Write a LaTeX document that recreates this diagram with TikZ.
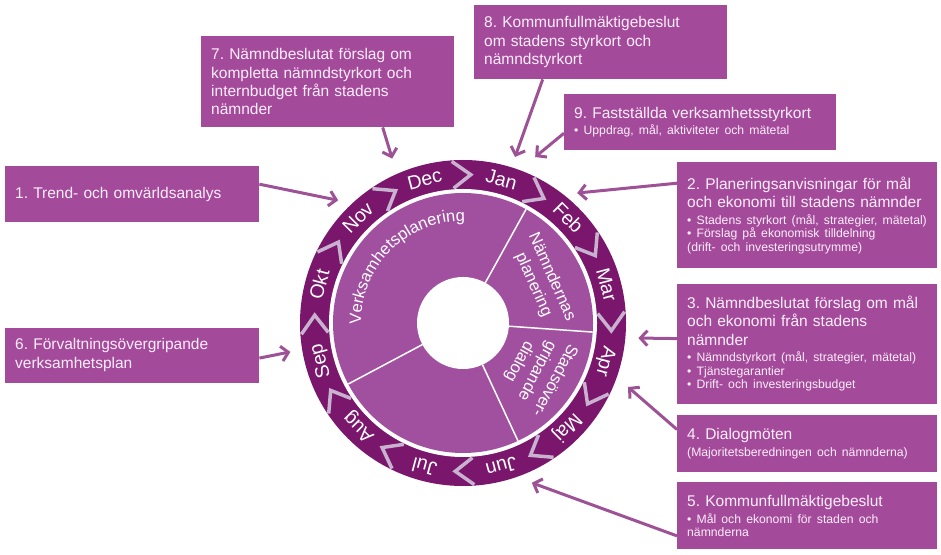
\documentclass[tikz,border=0pt]{standalone}
\usepackage{fontspec}
\setmainfont{Liberation Sans}
\usetikzlibrary{arrows.meta}
\usetikzlibrary{positioning}
\usetikzlibrary{decorations.text}

\definecolor{boxfill}{RGB}{164,74,154}
\definecolor{ringdark}{RGB}{122,22,108}
\definecolor{discfill}{RGB}{161,80,160}
\definecolor{chevron}{RGB}{200,178,208}
\definecolor{arrowc}{RGB}{158,82,150}
\definecolor{boxtext}{RGB}{253,238,251}

\frenchspacing
\hyphenpenalty=10000
\newcommand{\bigtxt}{\fontsize{15.5}{18.3}\selectfont}
\newcommand{\subtxt}[1]{\par\vspace{3.5pt}{\fontsize{12.2}{13.3}\selectfont #1\par}}

\tikzset{
  infobox/.style={fill=boxfill, text=boxtext, anchor=north west, align=left,
    inner xsep=10pt, inner ysep=0pt, font=\bigtxt},
  flow/.style={draw=arrowc, line width=3pt, -{Straight Barb[length=7pt,width=15pt]}},
  month/.style={text=white, inner sep=0pt, text height=13pt, text depth=0pt,
    font=\fontsize{19.5}{20}\selectfont},
  disctext/.style={text=white, align=center, inner sep=0pt,
    font=\fontsize{16.5}{20}\selectfont},
}

\begin{document}
\begin{tikzpicture}[x=1pt, y=1pt]
    \useasboundingbox (0,0) rectangle (941,554);

    \node[infobox, text width=233pt, minimum height=91pt] (b7) at (201,518)
      {7. Nämndbeslutat förslag om\\kompletta nämndstyrkort och\\internbudget från stadens\\nämnder};
    \node[infobox, text width=233pt, minimum height=74pt] (b8) at (474,549)
      {8. Kommunfullmäktigebeslut\\om stadens styrkort och\\nämndstyrkort};
    \node[infobox, text width=252pt, minimum height=56pt] (b9) at (564,460)
      {9. Fastställda verksamhetsstyrkort\subtxt{• Uppdrag, mål, aktiviteter och mätetal}};

    \node[infobox, text width=234pt, minimum height=56pt] (b1) at (5,388)
      {1. Trend- och omvärldsanalys};
    \node[infobox, text width=234pt, minimum height=55pt, below=105pt of b1] (b6)
      {6. Förvaltningsövergripande\\verksamhetsplan};

    \node[infobox, text width=240pt, minimum height=106pt] (b2) at (677,392)
      {2. Planeringsanvisningar för mål\\och ekonomi till stadens nämnder\subtxt{%
       • Stadens styrkort (mål, strategier, mätetal)\\• Förslag på ekonomisk tilldelning\\(drift- och investeringsutrymme)}};
    \node[infobox, text width=240pt, minimum height=120pt, below=15pt of b2] (b3)
      {3. Nämndbeslutat förslag om mål\\och ekonomi från stadens\\nämnder\subtxt{%
       • Nämndstyrkort (mål, strategier, mätetal)\\• Tjänstegarantier\\• Drift- och investeringsbudget}};
    \node[infobox, text width=240pt, minimum height=57pt, below=11pt of b3] (b4)
      {4. Dialogmöten\subtxt{(Majoritetsberedningen och nämnderna)}};
    \node[infobox, text width=240pt, minimum height=67pt, below=10pt of b4] (b5)
      {5. Kommunfullmäktigebeslut\subtxt{• Mål och ekonomi för staden och\\nämnderna}};

    \begin{scope}[shift={(463,231)}]
      \fill[ringdark] (0,0) circle (163);
      \fill[white] (0,0) circle (134);
      \fill[discfill] (0,0) circle (130);
      \fill[white] (0,0) circle (46);

      \foreach \a in {61,-4,-65,208}
        \draw[white, line width=1.5pt] (\a:46) -- (\a:130);

      \foreach \b [evaluate=\b as \bo using \b+4, evaluate=\b as \bi using \b-3] in {90,60,...,-240}
        \draw[chevron, line width=3.5pt] (\bo:162) -- (\bi:148.5) -- (\bo:135);

      \foreach \m [count=\i] in {Jan,Feb,Mar,Apr,Maj,Jun,Jul,Aug,Sep,Okt,Nov,Dec} {
        \pgfmathsetmacro\ang{105-30*\i}
        \node[month, rotate=\ang-90] (\m) at (\ang:148.5) {\m};
      }

      \path[decorate, decoration={text along path, text color=white, text align=center,
          text={|\fontsize{16.5}{18}\selectfont|Verksamhetsplanering}}] (205:102) arc (205:65:102);
      \node[disctext, rotate=-66] (np) at (28:90) {Nämndernas\\planering};
      \node[disctext, rotate=-118] (sd) at (-33:88) {Stadsöver-\\gripande\\dialog};

      \coordinate (t1) at (135.5:175);
      \coordinate (t2) at (48.7:173);
      \coordinate (t3) at (-4.9:176);
      \coordinate (t4) at (-21.2:177);
      \coordinate (t5) at (-66.7:174);
      \coordinate (t6) at (189.5:175);
      \coordinate (t7) at (113.3:179);
      \coordinate (t8) at (72.6:174);
      \coordinate (t9) at (66.5:181);
    \end{scope}

    \draw[flow] ([yshift=10pt]b1.east) -- (t1);
    \draw[flow] ([yshift=32pt]b2.west) -- (t2);
    \draw[flow] ([yshift=5pt]b3.west) -- (t3);
    \draw[flow] ([yshift=14pt]b4.west) -- (t4);
    \draw[flow] ([yshift=-20pt]b5.west) -- (t5);
    \draw[flow] ([yshift=-3pt]b6.east) -- (t6);
    \draw[flow] ([xshift=55pt]b7.south) -- (t7);
    \draw[flow] ([xshift=-58pt]b8.south) -- (t8);
    \draw[flow] ([yshift=-11pt]b9.west) -- (t9);
\end{tikzpicture}
\end{document}
